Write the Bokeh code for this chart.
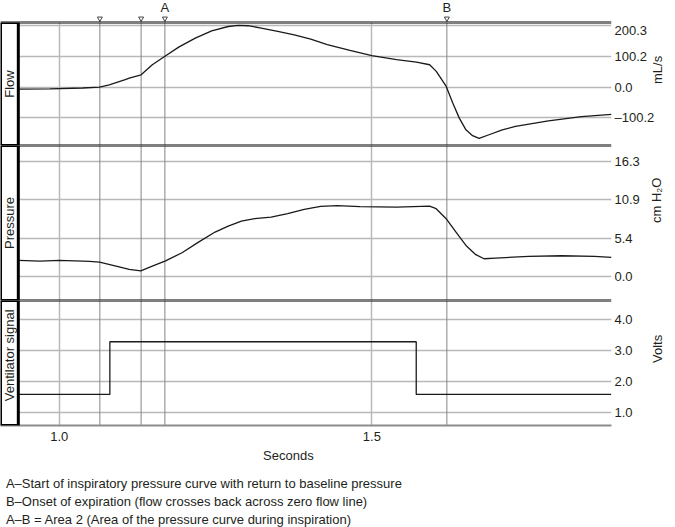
import math
from bokeh.plotting import figure
from bokeh.layouts import column
from bokeh.models import (Range1d, FixedTicker, Grid, Span, BoxAnnotation, Label,
                          ColumnDataSource)
from bokeh.embed import file_html
from bokeh.resources import INLINE
from bokeh.core.properties import value

# ---------------- data ----------------
flow_t = [0.935, 0.985, 1.0375, 1.0645, 1.080, 1.1056, 1.112, 1.131, 1.1489, 1.1685,
          1.1911, 1.2176, 1.2439, 1.2703, 1.2862, 1.302, 1.3231, 1.3495, 1.376, 1.4023,
          1.4287, 1.465, 1.5, 1.5395, 1.5714, 1.5925, 1.6031, 1.619, 1.6294, 1.6399,
          1.6505, 1.6611, 1.6715, 1.6874, 1.7086, 1.7297, 1.7824, 1.8353, 1.8833]
flow_v = [-6.5, -6.0, -3.0, 0.0, 7.5, 24.0, 29.0, 40.0, 72.6, 99.6,
          130.0, 159.0, 183.0, 197.0, 200.5, 199.5, 192.0, 181.0, 170.0, 156.0,
          138.0, 119.0, 102.0, 89.0, 81.0, 72.6, 51.0, 2.0, -52.0, -101.0,
          -139.0, -158.0, -167.0, -155.0, -139.0, -128.0, -110.0, -96.0, -89.0]

pres_t = [0.935, 0.9694, 1.0, 1.0375, 1.0487, 1.0645, 1.0909, 1.112, 1.1305, 1.1489,
          1.1701, 1.1964, 1.2228, 1.2493, 1.2703, 1.2914, 1.3126, 1.3389, 1.3654, 1.3918,
          1.4181, 1.4446, 1.4811, 1.5395, 1.5923, 1.6029, 1.6188, 1.6346, 1.6505, 1.6663,
          1.6794, 1.698, 1.7507, 1.8036, 1.8563, 1.8833]
pres_v = [2.26, 2.17, 2.26, 2.17, 2.12, 2.02, 1.46, 0.99, 0.8, 1.46,
          2.21, 3.35, 4.85, 6.27, 7.12, 7.83, 8.16, 8.39, 8.86, 9.47,
          9.9, 10.0, 9.85, 9.8, 9.94, 9.57, 8.16, 6.27, 4.38, 3.07,
          2.5, 2.59, 2.83, 2.92, 2.83, 2.69]

vent_t = [0.935, 1.081, 1.571, 1.883]
vent_v = [1.58, 3.29, 1.58, 1.58]

flow_ticks = [-100.2, 0.0, 100.2, 200.3]
flow_tick_labels = ["\u2013100.2", "0.0", "100.2", "200.3"]
pres_ticks = [0.0, 5.4, 10.9, 16.3]
pres_tick_labels = ["0.0", "5.4", "10.9", "16.3"]
vent_ticks = [1.0, 2.0, 3.0, 4.0]
vent_tick_labels = ["1.0", "2.0", "3.0", "4.0"]
time_ticks = [1.0, 1.5]
time_tick_labels = ["1.0", "1.5"]

marker_t = [1.065, 1.131, 1.169, 1.620]
marker_labels = ["", "", "A", "B"]

panel_names = ["Flow", "Pressure", "Ventilator signal"]
units = ["mL/s", "cm H\u2082O", "Volts"]
x_label = "Seconds"
captions = [
    "A\u2013Start of inspiratory pressure curve with return to baseline pressure",
    "B\u2013Onset of expiration (flow crosses back across zero flow line)",
    "A\u2013B =  Area 2 (Area of the pressure curve during inspiration)",
]

# ---------------- style / layout ----------------
FONT = "Liberation Sans"
TXT = "#231f20"
GRID = "#b8b8b8"
MARK = "#858585"
LINE = "#1a1a1a"
FS = "13px"
W = 675
BR = 58
X0, X1 = 0.9061, 1.8833
PANEL_LEFT = 0.9346
LABEL_ORIENT = math.pi / 2

x_rng = Range1d(X0, X1)


def blank(height, y_rng, right=BR, xr=None):
    p = figure(width=W, height=height, x_range=xr if xr is not None else x_rng, y_range=y_rng,
               x_axis_type=None, y_axis_type=None, output_backend="svg",
               toolbar_location=None, min_border_left=0, min_border_right=right,
               min_border_top=0, min_border_bottom=0, outline_line_color=None)
    return p


def panel(height, y_rng, ticks, labels, unit, name, standoff, bottom=0, with_xaxis=False,
          label_shift=0.0, top_line=True, bottom_line=True):
    p = figure(width=W, height=height, x_range=x_rng, y_range=y_rng,
               x_axis_type="linear" if with_xaxis else None, y_axis_location="right",
               output_backend="svg", toolbar_location=None, min_border_left=0,
               min_border_right=BR, min_border_top=0, min_border_bottom=bottom,
               outline_line_color=None)
    ax = p.yaxis[0]
    ax.ticker = FixedTicker(ticks=ticks)
    ax.major_label_overrides = dict(zip(ticks, labels))
    ax.axis_line_color = None
    ax.major_tick_line_color = None
    ax.minor_tick_line_color = None
    ax.major_tick_in = 0
    ax.major_tick_out = 0
    ax.major_label_standoff = 3
    ax.major_label_text_font = FONT
    ax.major_label_text_font_size = FS
    ax.major_label_text_color = TXT
    ax.axis_label = unit
    ax.axis_label_text_font = FONT
    ax.axis_label_text_font_size = FS
    ax.axis_label_text_font_style = "normal"
    ax.axis_label_text_color = TXT
    ax.axis_label_standoff = standoff
    ax.axis_label_orientation = LABEL_ORIENT
    p.ygrid.grid_line_color = GRID
    p.ygrid.grid_line_width = 1.5

    if with_xaxis:
        xa = p.xaxis[0]
        xa.ticker = FixedTicker(ticks=time_ticks)
        xa.major_label_overrides = dict(zip(time_ticks, time_tick_labels))
        xa.axis_line_color = "#8c8c8c"
        xa.axis_line_width = 2
        xa.major_tick_line_color = None
        xa.minor_tick_line_color = None
        xa.major_tick_in = 0
        xa.major_tick_out = 0
        xa.major_label_standoff = 6
        xa.major_label_text_font = FONT
        xa.major_label_text_font_size = FS
        xa.major_label_text_color = TXT
        p.xgrid.grid_line_color = GRID
        p.xgrid.grid_line_width = 1.5
    else:
        g = Grid(dimension=0, ticker=FixedTicker(ticks=time_ticks),
                 grid_line_color=GRID, grid_line_width=1.5)
        p.add_layout(g, "center")

    for t in marker_t:
        p.add_layout(Span(location=t, dimension="height", line_color=MARK,
                          line_width=1, level="underlay"))

    box = BoxAnnotation(right=PANEL_LEFT, fill_color="white", fill_alpha=1.0,
                        line_color="black", line_width=3, line_alpha=1.0)
    p.add_layout(box)
    mid = 0.5 * (y_rng.start + y_rng.end) + label_shift
    p.add_layout(Label(x=0.5 * (X0 + PANEL_LEFT), y=mid, text=name, angle=math.pi / 2,
                       text_align="center", text_baseline="middle", text_font=FONT,
                       text_font_size=FS, text_color=TXT))
    if top_line:
        p.add_layout(Span(location=y_rng.end, dimension="width", line_color="black",
                          line_width=2))
    if bottom_line:
        p.add_layout(Span(location=y_rng.start, dimension="width", line_color="black",
                          line_width=2))
    return p


# top strip with event markers
top = blank(22, Range1d(22, 0))
msrc = ColumnDataSource(dict(t=marker_t, lab=marker_labels))
top.segment(x0="t", y0=18, x1="t", y1=22, source=msrc, line_color=MARK, line_width=1)
top.scatter("t", 18, source=msrc, marker="inverted_triangle", size=5,
            line_color="#444444", fill_color="white", line_width=1)
top.text("t", 7, text="lab", source=msrc, text_align="center", text_baseline="middle",
         text_font=value(FONT), text_font_size=FS, text_color=TXT)
top.add_layout(Span(location=22, dimension="width", line_color="black", line_width=2))

flow = panel(123, Range1d(-190, 210), flow_ticks, flow_tick_labels, units[0],
             panel_names[0], 0)
flow.line(flow_t, flow_v, line_color=LINE, line_width=1.3)

pres = panel(155, Range1d(-3.4, 18.5), pres_ticks, pres_tick_labels, units[1],
             panel_names[1], 14)
pres.line(pres_t, pres_v, line_color=LINE, line_width=1.3)

vent = panel(147, Range1d(0.57, 4.63), vent_ticks, vent_tick_labels, units[2],
             panel_names[2], 22, bottom=22, with_xaxis=True, label_shift=0.25,
             bottom_line=False)
vent.step(vent_t, vent_v, mode="after", line_color=LINE, line_width=1.3)

# caption strip
cap = blank(80, Range1d(80, 0), right=0, xr=Range1d(0, W))
cap.add_layout(Label(x=318, y=8, text=x_label, text_align="center",
                     text_baseline="middle", text_font=FONT, text_font_size=FS,
                     text_color=TXT))
for i, c in enumerate(captions):
    cap.add_layout(Label(x=6, y=36 + 18 * i, text=c, text_align="left",
                         text_baseline="middle", text_font=FONT, text_font_size=FS,
                         text_color=TXT))

layout = column(top, flow, pres, vent, cap, spacing=0)

open("out.html", "w").write(file_html(layout, INLINE))
